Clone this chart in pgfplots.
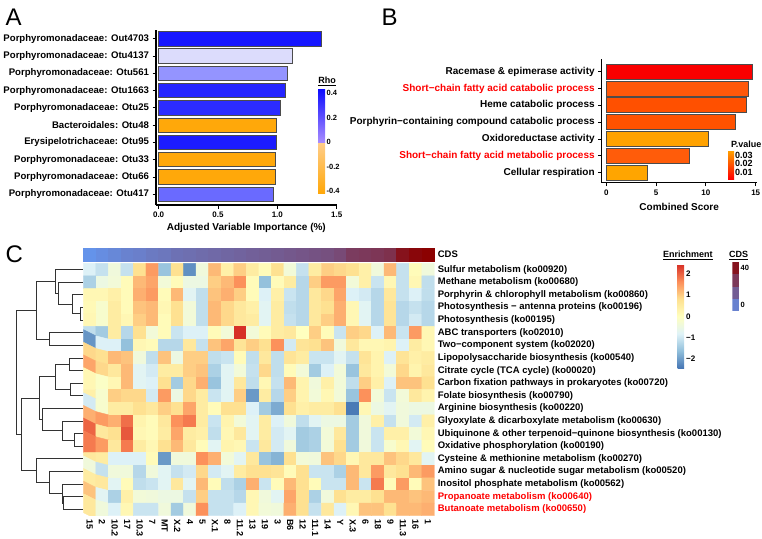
\documentclass[border=0pt]{standalone}
\usepackage{pgfplots}
\pgfplotsset{compat=1.18}
\usepackage{fontspec}
\setmainfont{Liberation Sans}
\newcommand\fs[1]{\fontsize{#1}{#1}\selectfont}

% bar colours, panel A (Rho) and panel B (P.value)
\definecolor{rhoA}{RGB}{22,22,255}
\definecolor{rhoB}{RGB}{220,220,252}
\definecolor{rhoC}{RGB}{148,148,255}
\definecolor{rhoD}{RGB}{36,36,255}
\definecolor{rhoE}{RGB}{44,44,255}
\definecolor{rhoF}{RGB}{28,28,255}
\definecolor{rhoG}{RGB}{106,106,255}
\definecolor{rhoOr}{RGB}{255,168,10}
\definecolor{rhoPeach}{RGB}{255,206,140}
\definecolor{rhoLav}{RGB}{168,140,255}
\definecolor{rhoBlue}{RGB}{12,12,255}
\definecolor{pvA}{RGB}{250,0,0}
\definecolor{pvB}{RGB}{255,88,10}
\definecolor{pvC}{RGB}{255,80,0}
\definecolor{pvD}{RGB}{255,82,0}
\definecolor{pvE}{RGB}{255,162,0}
\definecolor{pvF}{RGB}{255,92,10}
\definecolor{pvG}{RGB}{255,165,0}
\definecolor{cdsA}{RGB}{105,130,207}
\definecolor{cdsB}{RGB}{115,93,148}
\definecolor{cdsC}{RGB}{124,56,89}
\definecolor{cdsD}{RGB}{134,19,30}

\pgfplotsset{
  hbars/.style={
    scale only axis, anchor=south west, clip=false,
    axis x line*=bottom, axis y line*=left,
    axis line style={-, line width=1.3pt},
    tick style={black, line width=0.9pt},
    major tick length=3.5pt, tick align=outside,
    xbar, bar shift=0pt,
    xticklabel style={font=\fs{8}},
    yticklabel style={font=\fs{9.6}},
    xlabel style={font=\fs{10}},
  },
  hb/.style={fill=#1, draw=black!70, line width=0.9pt},
  legbar/.style={
    scale only axis, anchor=south west,
    xmin=0, xmax=1, hide x axis,
    axis y line*=right, y axis line style={draw=none},
    major tick length=0pt,
    yticklabel style={font=\fs{7.5}, inner sep=1.5pt},
  },
  dend/.style={black!80, line width=0.9pt, no marks},
}

\begin{document}
\bfseries
\begin{tikzpicture}
\useasboundingbox (0,0) rectangle (762pt,-538pt);

% ---------------- A
\begin{axis}[hbars, at={(156pt,-205pt)}, width=180.7pt, height=175pt,
  xmin=-0.022, xmax=1.5, ymin=0.38, ymax=10.51, bar width=14.3pt,
  xtick={0,0.5,1,1.5}, xticklabels={0.0,0.5,1.0,1.5},
  ytick={1,...,10},
  yticklabels={Porphyromonadaceae: Otu417, Porphyromonadaceae: Otu66,
    Porphyromonadaceae: Otu33, Erysipelotrichaceae: Otu95, Bacteroidales: Otu48,
    Porphyromonadaceae: Otu25, Porphyromonadaceae: Otu1663, Porphyromonadaceae: Otu561,
    Porphyromonadaceae: Otu4137, Porphyromonadaceae: Out4703},
  xlabel={Adjusted Variable Importance (\%)}, xlabel style={yshift=1.5pt}]
\addplot[hb=rhoG] coordinates {(0.969,1)};
\addplot[hb=rhoOr] coordinates {(0.983,2)};
\addplot[hb=rhoOr] coordinates {(0.983,3)};
\addplot[hb=rhoF] coordinates {(0.991,4)};
\addplot[hb=rhoOr] coordinates {(0.994,5)};
\addplot[hb=rhoE] coordinates {(1.025,6)};
\addplot[hb=rhoD] coordinates {(1.070,7)};
\addplot[hb=rhoC] coordinates {(1.084,8)};
\addplot[hb=rhoB] coordinates {(1.126,9)};
\addplot[hb=rhoA] coordinates {(1.374,10)};
\end{axis}

\begin{axis}[legbar, at={(318pt,-193pt)}, width=7pt, height=104pt,
  ymin=-0.416, ymax=0.433, ytick={-0.4,-0.2,0,0.2,0.4},
  yticklabels={-0.4,-0.2,0,0.2,0.4}]
\addplot[draw=none, bottom color=rhoOr, top color=rhoPeach]
  coordinates {(0,-0.416) (1,-0.416) (1,0) (0,0)} -- cycle;
\addplot[draw=none, bottom color=rhoLav, top color=rhoBlue]
  coordinates {(0,0) (1,0) (1,0.433) (0,0.433)} -- cycle;
\end{axis}
\node[font=\fs{9}] at (327pt,-81pt) {\underline{Rho}};

% ---------------- B
\begin{axis}[hbars, at={(601.7pt,-182.7pt)}, width=155pt, height=123.4pt,
  xmin=-0.46, xmax=15.1, ymin=0.4, ymax=7.74, bar width=15pt,
  xtick={0,5,10,15}, xticklabels={0,5,10,15}, ytick={1,...,7},
  yticklabel style={font=\fs{10}},
  yticklabels={Cellular respiration,
    \textcolor{red}{Short−chain fatty acid metabolic process},
    Oxidoreductase activity,
    Porphyrin−containing compound catabolic process,
    Heme catabolic process,
    \textcolor{red}{Short−chain fatty acid catabolic process},
    Racemase \& epimerase activity},
  xlabel={Combined Score}, xlabel style={yshift=-1pt},
  colormap={pv}{rgb255=(255,0,0) rgb255=(255,165,0)},
  point meta min=0.002, point meta max=0.036,
  colorbar, colorbar shift/.style={},
  colorbar style={at={(parent axis.north east)}, anchor=north west,
    xshift=-28.7pt, yshift=-90.7pt, scale only axis, width=6pt, height=29pt,
    axis line style={draw=none}, major tick length=0pt, scaled y ticks=false,
    ytick={0.01,0.02,0.03}, yticklabels={0.01,0.02,0.03},
    yticklabel style={font=\fs{9}, inner sep=1pt}}]
\addplot[hb=pvG] coordinates {(4.1,1)};
\addplot[hb=pvF] coordinates {(8.33,2)};
\addplot[hb=pvE] coordinates {(10.27,3)};
\addplot[hb=pvD] coordinates {(12.96,4)};
\addplot[hb=pvC] coordinates {(14.1,5)};
\addplot[hb=pvB] coordinates {(14.32,6)};
\addplot[hb=pvA] coordinates {(14.64,7)};
\end{axis}
\node[font=\fs{9}, anchor=west] at (727.5pt,-144.5pt) {P.value};

% ---------------- C : CDS annotation bar
\begin{axis}[at={(83.3pt,-260.7pt)}, anchor=south west, scale only axis,
  width=351pt, height=12.4pt, xmin=0.5, xmax=28.5, ymin=0.5, ymax=1.5,
  axis line style={draw=none}, major tick length=0pt, xtick=\empty,
  ytick={1}, yticklabels={CDS}, ytick pos=right, yticklabel pos=right,
  yticklabel style={font=\fs{9.5}},
  colormap={cds}{rgb255=(100,149,237) rgb255=(139,0,0)},
  point meta min=-6.67, point meta max=46.67]
\addplot[scatter, only marks, mark=square*, mark size=6.27pt, point meta=explicit,
  scatter/use mapped color={draw=mapped color, fill=mapped color}]
  table[meta=c]{
x y c
1 1 -6
2 1 -4
3 1 -2
4 1 0
5 1 1
6 1 3
7 1 4
8 1 6
9 1 7
10 1 8
11 1 9
12 1 10
13 1 11
14 1 12
15 1 13
16 1 14
17 1 15
18 1 16
19 1 17
20 1 18
21 1 20
22 1 25
23 1 26
24 1 27
25 1 29
26 1 40
27 1 44
28 1 46
};
\end{axis}

% ---------------- C : heatmap
\begin{axis}[at={(83.3pt,-515.7pt)}, anchor=south west, scale only axis,
  width=351pt, height=252.4pt, xmin=0.5, xmax=28.5, ymin=0.5, ymax=20.5, y dir=reverse,
  axis line style={draw=none}, major tick length=0pt,
  xtick={1,...,28},
  xticklabels={15,2,10.2,17,10.3,7,MT,X.2,4,5,X.1,8,11.2,13,19,3,B6,12,11.1,14,Y,X.3,6,18,9,11.3,16,1},
  xticklabel style={rotate=-90, anchor=west, font=\fs{9}},
  ytick={1,...,20}, ytick pos=right, yticklabel pos=right,
  yticklabel style={anchor=west, font=\fs{9.5}},
  yticklabels={Sulfur metabolism (ko00920), Methane metabolism (ko00680),
    Porphyrin \& chlorophyll metabolism (ko00860),
    Photosynthesis − antenna proteins (ko00196), Photosynthesis (ko00195),
    ABC transporters (ko02010), Two−component system (ko02020),
    Lipopolysaccharide biosynthesis (ko00540), Citrate cycle (TCA cycle) (ko00020),
    Carbon fixation pathways in prokaryotes (ko00720), Folate biosynthesis (ko00790),
    Arginine biosynthesis (ko00220), Glyoxylate \& dicarboxylate metabolism (ko00630),
    Ubiquinone \& other terpenoid−quinone biosynthesis (ko00130),
    Oxidative phosphorylation (ko00190), Cysteine \& methionine metabolism (ko00270),
    Amino sugar \& nucleotide sugar metabolism (ko00520),
    Inositol phosphate metabolism (ko00562),
    \textcolor{red}{Propanoate metabolism (ko00640)},
    \textcolor{red}{Butanoate metabolism (ko00650)}},
  colormap={rdylbu}{rgb255=(69,117,180) rgb255=(145,191,219) rgb255=(224,243,248)
    rgb255=(255,255,191) rgb255=(254,224,144) rgb255=(252,141,89) rgb255=(215,48,39)},
  point meta min=-2.45, point meta max=2.45,
  colorbar, colorbar shift/.style={},
  colorbar style={at={(parent axis.north east)}, anchor=north west,
    xshift=243.4pt, yshift=-1pt, scale only axis, width=6.3pt, height=104pt,
    axis line style={draw=none}, major tick length=0pt,
    ytick={-2,-1,0,1,2}, yticklabels={−2,−1,0,1,2},
    yticklabel style={font=\fs{8}, inner sep=2pt}}]
\addplot[matrix plot*, mesh/cols=28, point meta=explicit]
  table[row sep=\\, x expr={mod(\coordindex,28)+1}, y expr={floor(\coordindex/28)+1}, meta=v]{
v\\
-0.85\\ -1.1\\ -0.4\\ -1.1\\ 0.8\\ 1.5\\ -1.55\\ 0.8\\ -2.15\\ -0.4\\ 1.2\\ 0.4\\ 1.0\\ 0.5\\ 0.1\\ 0.8\\ -0.35\\ -1.1\\ 0.5\\ 1.0\\ 0.9\\ 0.8\\ 0.4\\ -0.4\\ 1.2\\ -1.1\\ 0.1\\ -0.4\\
-1.35\\ -0.5\\ -0.35\\ 0.1\\ 1.2\\ 1.4\\ -0.35\\ 0.1\\ -0.5\\ -0.5\\ 1.0\\ 1.2\\ 1.6\\ 0.1\\ -1.6\\ 0.1\\ 0.5\\ -1.25\\ 1.0\\ 1.5\\ 1.5\\ -0.35\\ 0.4\\ -1.05\\ 0.2\\ -1.1\\ 0.2\\ -1.15\\
0.2\\ 0.2\\ 0.4\\ 0.1\\ 1.3\\ 1.5\\ 0.1\\ 1.2\\ -0.75\\ -1.15\\ 1.1\\ 1.3\\ 1.0\\ 0.1\\ -0.85\\ 0.4\\ -1.05\\ -1.25\\ 0.6\\ 0.9\\ 1.4\\ -0.85\\ -0.95\\ -1.25\\ 0.6\\ -1.1\\ -0.85\\ -1.15\\
0.15\\ -0.2\\ 0.5\\ 0.1\\ 1.1\\ 1.2\\ 0.2\\ 0.8\\ -0.35\\ -1.15\\ 1.2\\ 0.9\\ 0.6\\ 0.4\\ -0.75\\ 0.5\\ -1.15\\ -1.25\\ 0.6\\ 0.8\\ 1.3\\ 0.2\\ -0.75\\ -1.25\\ 0.7\\ -1.25\\ -1.1\\ -1.25\\
0.2\\ -0.2\\ 0.5\\ 0.2\\ 1.0\\ 1.2\\ 0.1\\ 0.8\\ -0.35\\ -1.15\\ 1.2\\ 0.9\\ 0.6\\ 0.5\\ -0.75\\ 0.5\\ -1.1\\ -1.25\\ 0.6\\ 1.0\\ 1.3\\ 0.2\\ -0.75\\ -1.25\\ 0.7\\ -1.25\\ -0.95\\ -1.25\\
-1.15\\ -1.45\\ 0.5\\ -1.25\\ 0.8\\ -0.35\\ 0.1\\ -1.05\\ -0.85\\ -0.85\\ 0.1\\ -0.35\\ 2.45\\ -0.35\\ 0.1\\ 0.5\\ 0.6\\ 0.0\\ 1.0\\ 0.1\\ -1.05\\ 1.0\\ 0.9\\ -0.85\\ 1.2\\ -1.05\\ 1.5\\ 0.2\\
-2.1\\ -0.85\\ -0.85\\ -1.6\\ 0.2\\ 0.1\\ -1.25\\ -1.25\\ 0.6\\ -1.1\\ 1.1\\ 1.4\\ 0.7\\ 1.0\\ 0.8\\ 1.6\\ -0.95\\ 0.7\\ 0.8\\ 1.1\\ -0.4\\ 0.6\\ 0.2\\ 0.2\\ 0.3\\ -0.85\\ 0.5\\ 0.2\\
0.9\\ 0.8\\ 1.2\\ 1.1\\ -0.4\\ -1.15\\ 1.1\\ -0.5\\ 1.0\\ 1.0\\ -1.15\\ -1.05\\ 0.1\\ -1.15\\ 0.6\\ -1.15\\ 0.7\\ 0.5\\ -1.05\\ -1.05\\ -0.75\\ -1.1\\ 0.7\\ 0.3\\ -0.85\\ 0.7\\ 0.4\\ 0.5\\
1.4\\ 0.9\\ 0.6\\ 1.2\\ -0.75\\ -0.95\\ 0.5\\ 0.5\\ 1.0\\ 1.1\\ -1.35\\ -0.75\\ -0.35\\ -1.1\\ 0.9\\ -1.15\\ 0.1\\ -0.35\\ -1.45\\ -0.85\\ -0.35\\ -1.55\\ 0.6\\ 0.3\\ -0.35\\ 0.9\\ 0.3\\ 0.6\\
0.2\\ -0.1\\ 0.2\\ 1.2\\ -0.75\\ -0.85\\ 0.8\\ -1.45\\ 0.9\\ 1.3\\ -1.55\\ -0.75\\ 0.6\\ -1.15\\ 0.2\\ -1.1\\ 1.2\\ 0.3\\ -0.4\\ 0.4\\ -0.35\\ -1.15\\ 1.0\\ 0.4\\ -0.85\\ 1.1\\ 1.1\\ 0.8\\
0.4\\ -0.2\\ 1.0\\ 0.9\\ 0.9\\ -0.95\\ 1.5\\ -0.5\\ 0.9\\ 0.5\\ -1.05\\ -0.75\\ 1.0\\ -2.05\\ 0.5\\ -1.25\\ 1.0\\ 0.3\\ -0.35\\ 0.2\\ -0.35\\ -1.55\\ 1.6\\ -0.35\\ -1.05\\ -0.35\\ 0.6\\ 0.3\\
-0.95\\ -0.2\\ 0.5\\ 0.5\\ 0.8\\ 0.6\\ 1.0\\ 0.8\\ 1.4\\ 0.5\\ 0.1\\ 0.8\\ 0.8\\ -0.85\\ -1.45\\ -1.85\\ 0.8\\ 0.4\\ 0.5\\ 0.5\\ 0.8\\ -2.4\\ 0.2\\ -0.5\\ -0.75\\ -0.4\\ -0.5\\ -0.5\\
1.3\\ 1.5\\ 1.3\\ 1.9\\ 0.3\\ 0.1\\ 0.6\\ 1.6\\ 1.8\\ 0.5\\ -1.05\\ 0.3\\ -0.35\\ -0.75\\ 0.5\\ -0.85\\ -0.4\\ -1.15\\ -0.75\\ -0.5\\ -0.5\\ -1.45\\ -0.4\\ 0.4\\ -1.1\\ -0.4\\ -0.95\\ 0.4\\
2.0\\ 0.6\\ 0.8\\ 2.1\\ 0.2\\ 0.1\\ 0.5\\ 1.4\\ 0.5\\ 0.4\\ -1.15\\ 0.2\\ 0.6\\ -0.75\\ 0.5\\ -0.95\\ -0.75\\ -1.45\\ -1.35\\ -0.35\\ 0.6\\ -1.45\\ -0.4\\ -1.05\\ 0.4\\ 0.4\\ -0.35\\ 0.2\\
1.8\\ 1.5\\ 0.6\\ 1.8\\ 0.5\\ 0.2\\ 0.8\\ 1.2\\ 0.6\\ 0.1\\ -0.75\\ 0.3\\ 0.2\\ -1.05\\ 0.6\\ -0.95\\ -0.4\\ -1.45\\ -1.35\\ -0.35\\ 0.8\\ -1.45\\ -0.4\\ -1.05\\ -0.2\\ 0.2\\ -0.75\\ 0.1\\
0.6\\ 0.5\\ -0.85\\ -0.85\\ -0.85\\ 0.1\\ -2.05\\ -0.4\\ -0.4\\ 1.6\\ 1.3\\ -0.35\\ -0.75\\ 0.6\\ -1.55\\ -1.75\\ 0.8\\ -0.35\\ -0.4\\ 1.1\\ 0.9\\ 0.2\\ 0.6\\ 0.6\\ 1.1\\ 0.9\\ 0.6\\ -0.75\\
-0.4\\ -1.1\\ -0.4\\ -0.4\\ -1.25\\ -0.4\\ -0.75\\ -1.1\\ -0.95\\ 0.9\\ -0.95\\ -0.75\\ 0.5\\ 0.8\\ 0.8\\ 0.7\\ 0.1\\ 0.8\\ -1.05\\ -1.05\\ -1.35\\ 1.2\\ 0.6\\ 1.5\\ 0.6\\ 0.8\\ 1.2\\ 1.5\\
0.5\\ 0.6\\ -0.75\\ 0.1\\ -1.15\\ -1.05\\ -0.75\\ 0.6\\ -0.75\\ 1.2\\ 0.1\\ -1.15\\ -1.35\\ 1.3\\ -1.05\\ 0.1\\ 1.2\\ 0.8\\ 0.1\\ -1.05\\ -1.05\\ 1.2\\ -1.05\\ 1.8\\ 0.1\\ 1.5\\ 0.1\\ 1.1\\
1.1\\ -0.75\\ -1.35\\ 0.4\\ -0.35\\ -0.4\\ -0.5\\ -0.5\\ -1.1\\ 1.0\\ -1.1\\ -1.1\\ -1.25\\ 0.2\\ -0.4\\ -0.75\\ 1.4\\ 0.8\\ -1.35\\ -0.4\\ 0.8\\ 0.5\\ 0.5\\ 0.8\\ 1.2\\ 1.2\\ 1.1\\ 1.2\\
0.6\\ -0.4\\ -0.85\\ 0.2\\ -1.05\\ -1.05\\ -0.4\\ -1.45\\ -0.4\\ 1.6\\ -1.1\\ -1.1\\ -0.85\\ 0.2\\ -0.35\\ -0.4\\ 1.3\\ 0.8\\ -1.1\\ 0.6\\ -0.85\\ 0.2\\ 1.1\\ 1.1\\ 0.8\\ 1.2\\ 1.2\\ 1.3\\
};
\end{axis}

% ---------------- C : row dendrogram
\begin{axis}[at={(16.7pt,-515.7pt)}, anchor=south west, scale only axis,
  width=66pt, height=252.4pt, xmin=0, xmax=66, x dir=reverse,
  ymin=0.5, ymax=20.5, y dir=reverse, hide axis, clip=false]
\addplot[dend] coordinates {(0,4) (2.7,4) (2.7,5) (0,5)};
\addplot[dend] coordinates {(0,3) (10,3) (10,4.5) (2.7,4.5)};
\addplot[dend] coordinates {(0,2) (24.3,2) (24.3,3.75) (10,3.75)};
\addplot[dend] coordinates {(0,1) (27.7,1) (27.7,2.875) (24.3,2.875)};
\addplot[dend] coordinates {(0,6) (33.7,6) (33.7,7) (0,7)};
\addplot[dend] coordinates {(27.7,1.9375) (46,1.9375) (46,6.5) (33.7,6.5)};
\addplot[dend] coordinates {(0,8) (13.3,8) (13.3,9) (0,9)};
\addplot[dend] coordinates {(0,10) (12.7,10) (12.7,11) (0,11)};
\addplot[dend] coordinates {(13.3,8.5) (27.7,8.5) (27.7,10.5) (12.7,10.5)};
\addplot[dend] coordinates {(0,14) (8.7,14) (8.7,15) (0,15)};
\addplot[dend] coordinates {(0,13) (20.7,13) (20.7,14.5) (8.7,14.5)};
\addplot[dend] coordinates {(0,12) (40,12) (40,13.75) (20.7,13.75)};
\addplot[dend] coordinates {(27.7,9.5) (43.3,9.5) (43.3,12.875) (40,12.875)};
\addplot[dend] coordinates {(0,19) (19.3,19) (19.3,20) (0,20)};
\addplot[dend] coordinates {(0,18) (20.7,18) (20.7,19.5) (19.3,19.5)};
\addplot[dend] coordinates {(0,17) (33.3,17) (33.3,18.75) (20.7,18.75)};
\addplot[dend] coordinates {(0,16) (46.7,16) (46.7,17.875) (33.3,17.875)};
\addplot[dend] coordinates {(43.3,11.1875) (61.7,11.1875) (61.7,16.9375) (46.7,16.9375)};
\addplot[dend] coordinates {(46,4.21875) (66,4.21875) (66,14.0625) (61.7,14.0625)};
\end{axis}

% ---------------- C : CDS legend
\begin{axis}[legbar, at={(732.3pt,-311pt)}, width=6.7pt, height=48.7pt,
  ymin=-6.67, ymax=46.67, ytick={0,40}, yticklabels={0,40}]
\addplot[draw=none, fill=cdsA] coordinates {(0,-6.67) (1,-6.67) (1,6.67) (0,6.67)} -- cycle;
\addplot[draw=none, fill=cdsB] coordinates {(0,6.67) (1,6.67) (1,20) (0,20)} -- cycle;
\addplot[draw=none, fill=cdsC] coordinates {(0,20) (1,20) (1,33.33) (0,33.33)} -- cycle;
\addplot[draw=none, fill=cdsD] coordinates {(0,33.33) (1,33.33) (1,46.67) (0,46.67)} -- cycle;
\end{axis}
\node[font=\fs{9}, anchor=west] at (659.5pt,-255.7pt) {\underline{Enrichment}};
\node[font=\fs{9}, anchor=west] at (725.5pt,-255.7pt) {\underline{CDS}};

% ---------------- panel letters
\node[font=\fs{24}\mdseries, anchor=west] at (2pt,-17pt) {A};
\node[font=\fs{24}\mdseries, anchor=west] at (378pt,-17pt) {B};
\node[font=\fs{24}\mdseries, anchor=west] at (2pt,-254pt) {C};
\end{tikzpicture}
\end{document}
